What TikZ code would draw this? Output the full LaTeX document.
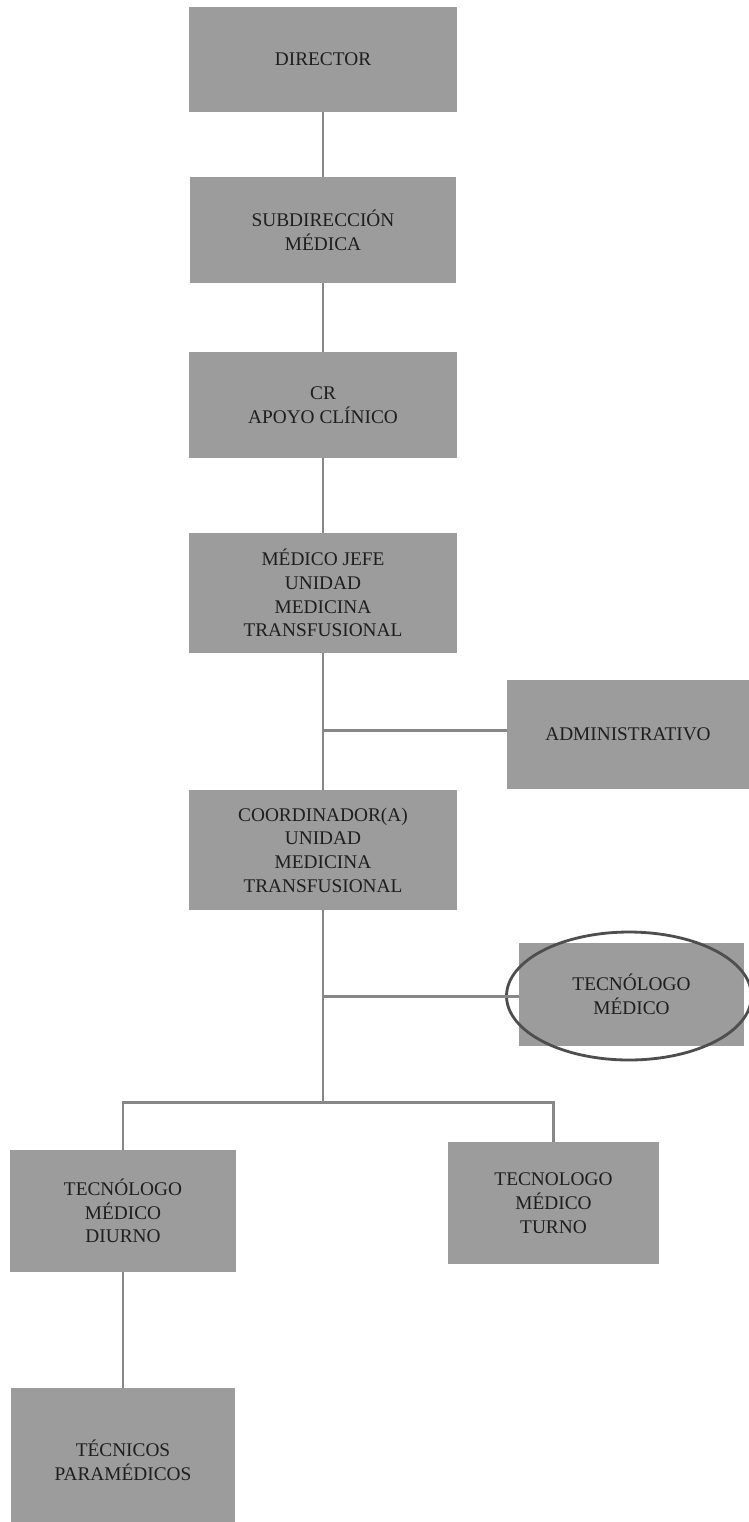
\documentclass[tikz,border=0pt]{standalone}
\usepackage{fontspec}
\setmainfont{Liberation Serif}
\usepackage{tikz}
\usetikzlibrary{positioning,calc,shapes.geometric}
\definecolor{boxgray}{HTML}{9C9C9C}
\definecolor{linegray}{HTML}{878787}
\definecolor{ink}{HTML}{1E1E1E}
\definecolor{ring}{HTML}{4E4E4E}
\tikzset{
  cargo/.style={fill=boxgray, draw=none, align=center, inner sep=2pt,
                font=\fontsize{11}{13.5}\selectfont, text=ink},
  link/.style={draw=linegray, line width=1.7pt},
  marca/.style={ellipse, draw=ring, line width=1.6pt, fill=none}
}

\begin{document}
\begin{tikzpicture}[x=0.02cm,y=-0.02cm]
        \clip (0,0) rectangle (749,1522);
        \fill[white] (0,0) rectangle (749,1522);

        % main column
        \node[cargo,minimum width=5.36cm,minimum height=2.10cm] (dir) at (323,59.5) {DIRECTOR};
        \node[cargo,minimum width=5.34cm,minimum height=2.12cm] (sub) at (323,230) {SUBDIRECCIÓN\\MÉDICA};
        \node[cargo,minimum width=5.38cm,minimum height=2.12cm] (cr) at (323,405) {CR\\APOYO CLÍNICO};
        \node[cargo,minimum width=5.38cm,minimum height=2.40cm] (jefe) at (323,593)
          {MÉDICO JEFE\\UNIDAD\\MEDICINA\\TRANSFUSIONAL};
        \node[cargo,minimum width=5.36cm,minimum height=2.40cm] (coord) at (323,850)
          {COORDINADOR(A)\\UNIDAD\\MEDICINA\\TRANSFUSIONAL};

        % side posts
        \node[cargo,minimum width=4.84cm,minimum height=2.18cm] (adm) at (628,734.5) {ADMINISTRATIVO};
        \node[cargo,minimum width=4.50cm,minimum height=2.06cm] (tec) at (631.5,994.5) {TECNÓLOGO\\MÉDICO};
        \node[marca,minimum width=4.90cm,minimum height=2.56cm] (tecring) at (629,996) {};

        % lower level
        \node[cargo,minimum width=4.52cm,minimum height=2.44cm] (diurno) at (123,1211)
          {TECNÓLOGO\\MÉDICO\\DIURNO};
        \node[cargo,minimum width=4.22cm,minimum height=2.44cm] (turno) at (553.5,1203)
          {TECNOLOGO\\MÉDICO\\TURNO};
        \node[cargo,minimum width=4.50cm,minimum height=2.88cm] (param) at (123,1460)
          {TÉCNICOS\\PARAMÉDICOS};

        % connectors
        \coordinate (jadm) at (323,730);
        \coordinate (jtec) at (323,996);
        \coordinate (jrama) at (323,1102);
        \draw[link] (dir.south) -- (sub.north);
        \draw[link] (sub.south) -- (cr.north);
        \draw[link] (cr.south) -- (jefe.north);
        \draw[link] (jefe.south) -- (coord.north);
        \draw[link] (jadm) -- (jadm -| adm.west);
        \draw[link] (coord.south) -- (jrama);
        \draw[link] (jtec) -- (jtec -| tec.west);
        \draw[link] (diurno.north) -- (diurno.north |- jrama) -- (turno.north |- jrama) -- (turno.north);
        \draw[link] (diurno.south) -- (param.north);
      \end{tikzpicture}
\end{document}
